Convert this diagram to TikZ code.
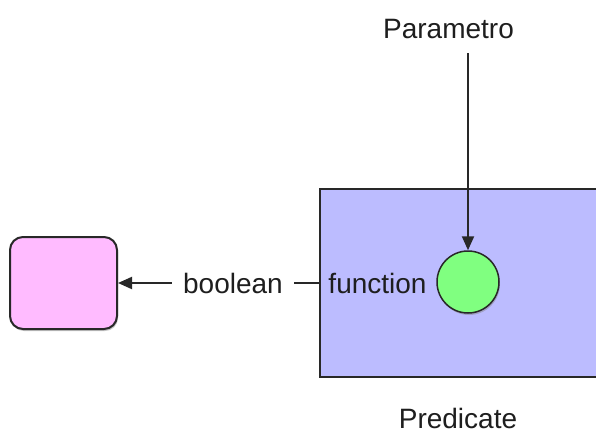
\documentclass[tikz,border=0pt]{standalone}
\usepackage{fontspec}
\setmainfont{Liberation Sans}
\usetikzlibrary{arrows.meta,shadows}
\definecolor{pinkfill}{RGB}{255,187,255}
\definecolor{bluefill}{RGB}{188,188,255}
\definecolor{greenfill}{RGB}{128,255,128}
\definecolor{edge}{RGB}{40,40,40}
\definecolor{txt}{RGB}{30,30,30}
\begin{document}
\begin{tikzpicture}[x=1pt,y=-1pt,
  lbl/.style={font=\fontsize{28}{34}\selectfont, text=txt, inner sep=0pt, text height=20pt, text depth=0pt},
  conn/.style={draw=edge, line width=2pt},
  arr/.style={conn, -{Triangle[length=14pt,width=12pt]}},
  shad/.style={drop shadow={opacity=0.45, shadow xshift=1pt, shadow yshift=-2pt}}
]
\fill[white] (0,0) rectangle (596,434);
\useasboundingbox (0,0) rectangle (596,434);
% Predicate rectangle
\node[draw=edge, line width=2pt, fill=bluefill, minimum width=278pt, minimum height=188pt, inner sep=0pt, anchor=north west] (pred) at (319,188) {};
% pink box
\node[draw=edge, line width=2pt, fill=pinkfill, rounded corners=13pt, minimum width=107pt, minimum height=92pt, inner sep=0pt, shad] (out) at (63.5,283) {};
% green circle
\node[circle, draw=edge, line width=1.5pt, fill=greenfill, minimum size=62pt, inner sep=0pt, shad] (fn) at (468,282) {};
% labels
\node[lbl] (param) at (448.5,28) {Parametro};
\node[lbl] (func) at (377.5,283) {function};
\node[lbl, inner xsep=11pt] (bool) at (233,283) {boolean};
\node[lbl] (predlbl) at (458,418) {Predicate};
\coordinate (pstart) at (468,53);
% connectors
\draw[arr] (pstart) -- (fn.north);
\draw[conn] (bool.east) -- (bool.east -| pred.west);
\draw[arr] (bool.west) -- (bool.west -| out.east);
\end{tikzpicture}
\end{document}
